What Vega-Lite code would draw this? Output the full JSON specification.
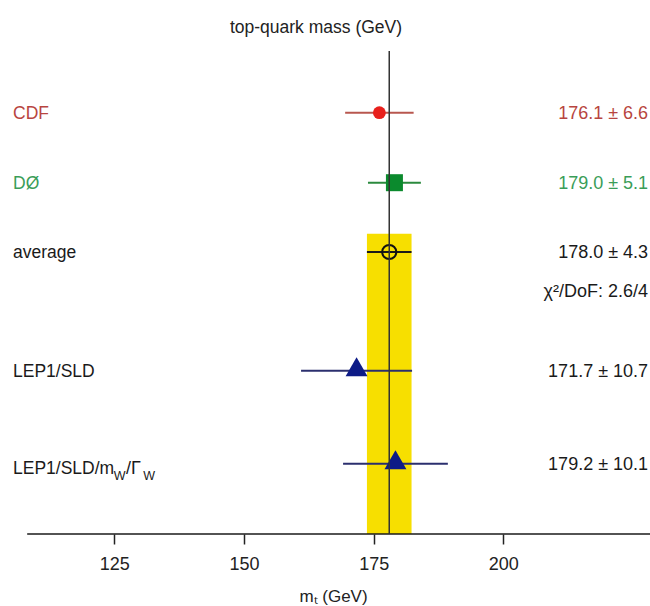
{
  "$schema": "https://vega.github.io/schema/vega-lite/v6.json",
  "width": 650,
  "height": 494,
  "autosize": {"type": "none"},
  "padding": {"top": 40, "left": 0, "right": 0, "bottom": 72},
  "background": "white",
  "title": {"text": "top-quark mass (GeV)", "fontSize": 17.5, "fontWeight": "normal", "font": "Liberation Sans", "color": "#222222", "anchor": "middle", "offset": 4, "dx": -9},
  "config": {"view": {"stroke": null}, "font": "Liberation Sans"},
  "datasets": {
    "meas": [
      {"exp": "CDF", "label": "CDF", "value": 176.1, "err": 6.6, "lo": 169.5, "hi": 182.7, "pos": 1.0, "txt": "176.1 ± 6.6"},
      {"exp": "DØ", "label": "DØ", "value": 179.0, "err": 5.1, "lo": 173.9, "hi": 184.1, "pos": 2.0, "txt": "179.0 ± 5.1"},
      {"exp": "average", "label": "average", "value": 178.0, "err": 4.3, "lo": 173.7, "hi": 182.3, "pos": 2.99, "txt": "178.0 ± 4.3"},
      {"exp": "LEP1/SLD", "label": "LEP1/SLD", "value": 171.7, "err": 10.7, "lo": 161.0, "hi": 182.4, "pos": 4.686, "txt": "171.7 ± 10.7"},
      {"exp": "LEP1/SLD/mW/ΓW", "label": "LEP1/SLD/mW/ΓW", "value": 179.2, "err": 10.1, "lo": 169.1, "hi": 189.3, "pos": 6.014, "txt": "179.2 ± 10.1"}
    ]
  },
  "layer": [
    {
      "data": {"name": "meas"},
      "transform": [{"filter": "datum.exp === 'average'"}],
      "mark": {"type": "rect", "color": "#f7df00"},
      "encoding": {
        "x": {"field": "lo", "type": "quantitative", "scale": {"domain": [102.96, 228.27], "nice": false, "zero": false},
          "axis": {"values": [125, 150, 175, 200], "domain": false, "grid": false, "tickSize": 10, "tickColor": "#222222", "tickWidth": 1.5, "labelFontSize": 18, "labelColor": "#222222", "labelPadding": 11, "title": "mₜ (GeV)", "titleFontSize": 17, "titleFontWeight": "normal", "titleColor": "#222222", "titlePadding": 15, "titleX": 333}},
        "x2": {"field": "hi"},
        "y": {"datum": 2.73, "type": "quantitative", "scale": {"domain": [-0.0386, 7.0186], "nice": false, "zero": false, "reverse": true}, "axis": null},
        "y2": {"datum": 7.0186}
      }
    },
    {
      "data": {"values": [{}]},
      "mark": {"type": "rule", "stroke": "#1a1a1a", "strokeWidth": 1.5},
      "encoding": {
        "x": {"datum": 108.2, "type": "quantitative"},
        "x2": {"datum": 228.27},
        "y": {"datum": 7.0186, "type": "quantitative"}
      }
    },
    {
      "data": {"name": "meas"},
      "mark": {"type": "rule", "strokeWidth": 2},
      "encoding": {
        "x": {"field": "lo", "type": "quantitative"},
        "x2": {"field": "hi"},
        "y": {"field": "pos", "type": "quantitative"},
        "stroke": {"field": "exp", "type": "nominal", "legend": null,
          "scale": {"domain": ["CDF", "DØ", "average", "LEP1/SLD", "LEP1/SLD/mW/ΓW"], "range": ["#b8574f", "#2b8a3e", "#1a1a1a", "#2b2f6e", "#2b2f6e"]}}
      }
    },
    {
      "data": {"name": "meas"},
      "transform": [{"filter": "datum.exp === 'CDF'"}],
      "mark": {"type": "point", "shape": "circle", "filled": true, "color": "#e8201c", "size": 165, "opacity": 1},
      "encoding": {"x": {"field": "value", "type": "quantitative"}, "y": {"field": "pos", "type": "quantitative"}}
    },
    {
      "data": {"name": "meas"},
      "transform": [{"filter": "datum.exp === 'DØ'"}],
      "mark": {"type": "point", "shape": "square", "filled": true, "color": "#0b8a2d", "size": 289, "opacity": 1},
      "encoding": {"x": {"field": "value", "type": "quantitative"}, "y": {"field": "pos", "type": "quantitative"}}
    },
    {
      "data": {"name": "meas"},
      "transform": [{"filter": "datum.exp === 'average'"}],
      "mark": {"type": "point", "shape": "circle", "filled": false, "stroke": "#111111", "strokeWidth": 2, "size": 200, "opacity": 1},
      "encoding": {"x": {"field": "value", "type": "quantitative"}, "y": {"field": "pos", "type": "quantitative"}}
    },
    {
      "data": {"name": "meas"},
      "transform": [{"filter": "datum.exp === 'LEP1/SLD' || datum.exp === 'LEP1/SLD/mW/ΓW'"}],
      "mark": {"type": "point", "shape": "triangle-up", "filled": true, "color": "#0d1b87", "size": 480, "opacity": 1, "yOffset": -4},
      "encoding": {"x": {"field": "value", "type": "quantitative"}, "y": {"field": "pos", "type": "quantitative"}}
    },
    {
      "data": {"values": [{}]},
      "mark": {"type": "rule", "stroke": "#333333", "strokeWidth": 1.5},
      "encoding": {
        "x": {"datum": 178.0, "type": "quantitative"},
        "y": {"datum": 0.12, "type": "quantitative"},
        "y2": {"datum": 7.0186}
      }
    },
    {
      "data": {"name": "meas"},
      "transform": [{"filter": "datum.exp !== 'LEP1/SLD/mW/ΓW'"}],
      "mark": {"type": "text", "align": "left", "baseline": "middle", "fontSize": 17.5, "dy": 1},
      "encoding": {
        "x": {"datum": 105.47, "type": "quantitative"},
        "y": {"field": "pos", "type": "quantitative"},
        "text": {"field": "label"},
        "fill": {"field": "exp", "type": "nominal", "legend": null,
          "scale": {"domain": ["CDF", "DØ", "average", "LEP1/SLD", "LEP1/SLD/mW/ΓW"], "range": ["#b84540", "#3a9d58", "#1a1a1a", "#1a1a1a", "#1a1a1a"]}}
      }
    },
    {
      "data": {"values": [{"t": "LEP1/SLD/m"}]},
      "mark": {"type": "text", "align": "left", "baseline": "alphabetic", "fontSize": 17.5, "color": "#1a1a1a", "dy": 10},
      "encoding": {"x": {"datum": 105.47, "type": "quantitative"}, "y": {"datum": 6.014, "type": "quantitative"}, "text": {"field": "t"}}
    },
    {
      "data": {"values": [{"t": "W"}]},
      "mark": {"type": "text", "align": "left", "baseline": "alphabetic", "fontSize": 12.5, "color": "#1a1a1a", "dy": 16},
      "encoding": {"x": {"datum": 124.88, "type": "quantitative"}, "y": {"datum": 6.014, "type": "quantitative"}, "text": {"field": "t"}}
    },
    {
      "data": {"values": [{"t": "/Γ"}]},
      "mark": {"type": "text", "align": "left", "baseline": "alphabetic", "fontSize": 18, "color": "#1a1a1a", "dy": 10},
      "encoding": {"x": {"datum": 127.25, "type": "quantitative"}, "y": {"datum": 6.014, "type": "quantitative"}, "text": {"field": "t"}}
    },
    {
      "data": {"values": [{"t": "W"}]},
      "mark": {"type": "text", "align": "left", "baseline": "alphabetic", "fontSize": 12.5, "color": "#1a1a1a", "dy": 16},
      "encoding": {"x": {"datum": 130.6, "type": "quantitative"}, "y": {"datum": 6.014, "type": "quantitative"}, "text": {"field": "t"}}
    },
    {
      "data": {"name": "meas"},
      "mark": {"type": "text", "align": "right", "baseline": "middle", "fontSize": 18, "dy": 1},
      "encoding": {
        "x": {"datum": 227.9, "type": "quantitative"},
        "y": {"field": "pos", "type": "quantitative"},
        "text": {"field": "txt"},
        "fill": {"field": "exp", "type": "nominal", "legend": null,
          "scale": {"domain": ["CDF", "DØ", "average", "LEP1/SLD", "LEP1/SLD/mW/ΓW"], "range": ["#b84540", "#3a9d58", "#1a1a1a", "#1a1a1a", "#1a1a1a"]}}
      }
    },
    {
      "data": {"values": [{"t": "χ²/DoF: 2.6/4"}]},
      "mark": {"type": "text", "align": "right", "baseline": "middle", "fontSize": 18, "color": "#1a1a1a"},
      "encoding": {"x": {"datum": 227.9, "type": "quantitative"}, "y": {"datum": 3.56, "type": "quantitative"}, "text": {"field": "t"}}
    }
  ],
  "resolve": {"scale": {"fill": "independent", "stroke": "independent"}}
}
